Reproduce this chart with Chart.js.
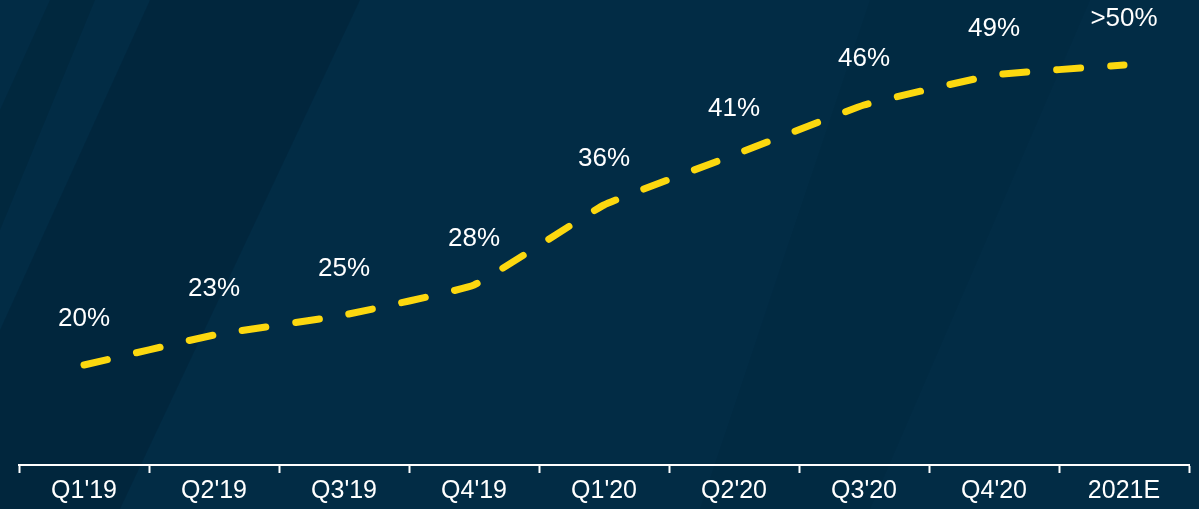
<!DOCTYPE html>
<html>
<head>
<meta charset="utf-8">
<script src="https://cdn.jsdelivr.net/npm/chart.js@4.4.1/dist/chart.umd.min.js"></script>
<style>
  html, body { margin: 0; padding: 0; background: #022c45; }
  #wrap { width: 1199px; height: 509px; }
</style>
</head>
<body>
<div id="wrap"><canvas id="chart" width="1199" height="509"></canvas></div>
<script>
const categories = ["Q1'19", "Q2'19", "Q3'19", "Q4'19", "Q1'20", "Q2'20", "Q3'20", "Q4'20", "2021E"];
const shareValues = [20, 23, 25, 28, 36, 41, 46, 49, 50];
const pointLabels = ['20%', '23%', '25%', '28%', '36%', '41%', '46%', '49%', '>50%'];

// dark navy backdrop with faint diagonal bands
const backdrop = {
    id: 'backdrop',
    beforeDraw(chart) {
        const { ctx, width, height } = chart;
        ctx.save();
        ctx.fillStyle = '#022c45';
        ctx.fillRect(0, 0, width, height);
        const bands = [
            { color: 'rgba(0,20,35,0.18)', pts: [[50, 0], [95, 0], [0, 230], [0, 110]] },
            { color: 'rgba(0,20,35,0.22)', pts: [[150, 0], [360, 0], [120, 509], [0, 509], [0, 330]] },
            { color: 'rgba(0,20,35,0.08)', pts: [[870, 0], [1090, 0], [870, 509], [700, 509]] }
        ];
        bands.forEach(b => {
            ctx.fillStyle = b.color;
            ctx.beginPath();
            b.pts.forEach(([x, y], i) => i ? ctx.lineTo(x, y) : ctx.moveTo(x, y));
            ctx.closePath();
            ctx.fill();
        });
        ctx.restore();
    }
};

const valueLabels = {
    id: 'valueLabels',
    afterDatasetsDraw(chart) {
        const { ctx } = chart;
        const meta = chart.getDatasetMeta(0);
        ctx.save();
        ctx.fillStyle = '#ffffff';
        ctx.font = '26px "Liberation Sans", Arial, sans-serif';
        ctx.textAlign = 'center';
        ctx.textBaseline = 'middle';
        meta.data.forEach((pt, i) => {
            ctx.fillText(pointLabels[i], pt.x, pt.y - 46);
        });
        ctx.restore();
    }
};

new Chart(document.getElementById('chart'), {
    type: 'line',
    data: {
        labels: categories,
        datasets: [{
            data: shareValues,
            borderColor: '#fcd80f',
            borderWidth: 7,
            borderDash: [24, 30],
            borderCapStyle: 'round',
            borderJoinStyle: 'round',
            tension: 0.1,
            pointRadius: 0,
            fill: false
        }]
    },
    options: {
        responsive: false,
        animation: false,
        layout: { padding: { left: 19, right: 10, top: 0, bottom: 0 } },
        plugins: {
            legend: { display: false },
            tooltip: { enabled: false }
        },
        scales: {
            x: {
                offset: true,
                border: { display: true, color: '#ffffff', width: 2 },
                grid: {
                    display: true,
                    offset: true,
                    drawOnChartArea: false,
                    drawTicks: true,
                    tickLength: 8,
                    tickWidth: 2,
                    tickColor: '#ffffff'
                },
                ticks: {
                    color: '#ffffff',
                    padding: 3,
                    maxRotation: 0,
                    font: { family: '"Liberation Sans", Arial, sans-serif', size: 25 }
                }
            },
            y: { display: false, min: 10, max: 56.5 }
        }
    },
    plugins: [backdrop, valueLabels]
});
</script>
</body>
</html>
